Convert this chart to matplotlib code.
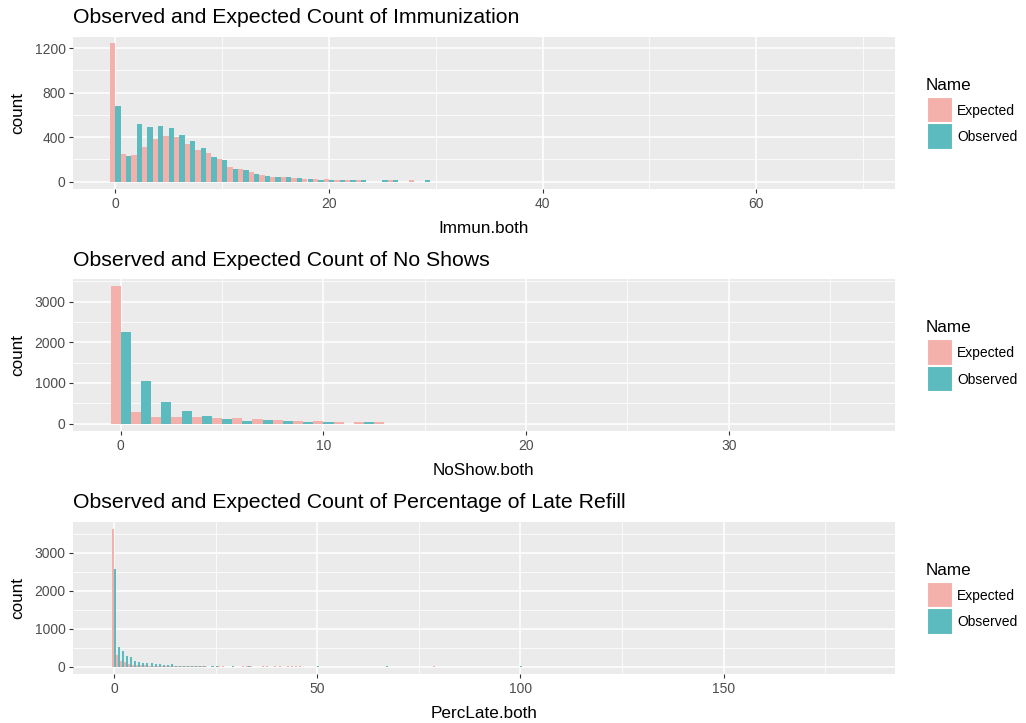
import numpy as np
import matplotlib
matplotlib.use("Agg")
import matplotlib.pyplot as plt
from matplotlib.patches import Rectangle

plt.rcParams['font.family'] = ['Liberation Sans', 'DejaVu Sans']

# ---- counts per integer bin (binwidth = 1) ----
immun_bins = list(range(30))
immun_expected = [1243, 247, 235, 309, 384, 413, 404, 342, 288, 253,
                  202, 135, 110, 85, 60, 40, 45, 30, 26, 25,
                  25, 18, 10, 15, 0, 0, 10, 0, 12, 0]
immun_observed = [681, 232, 520, 491, 503, 482, 416, 363, 300, 223,
                  193, 112, 100, 70, 50, 38, 45, 36, 26, 17,
                  16, 15, 15, 12, 0, 12, 12, 0, 0, 12]

noshow_bins = list(range(14))
noshow_expected = [3377, 279, 156, 156, 156, 150, 140, 123, 80, 57, 57, 33, 33, 33]
noshow_observed = [2246, 1041, 533, 303, 189, 123, 66, 98, 60, 33, 33, 0, 33, 0]

perclate_expected_bins = list(range(24)) + [26, 27, 32, 33, 34, 37, 38, 40, 41, 43, 44, 45, 46, 79]
perclate_expected = [3630, 316, 160, 115, 80, 55, 45, 38, 33, 28, 25, 22, 20, 18,
                     17, 15, 14, 13, 12, 12, 11, 10, 10, 9,
                     15, 14, 15, 14, 13, 13, 13, 13, 12, 12, 12, 12, 12, 15]
perclate_observed_bins = list(range(23)) + [24, 25, 29, 33, 50, 67, 100]
perclate_observed = [2580, 510, 410, 290, 255, 150, 125, 95, 88, 95, 60, 70, 35, 35,
                     70, 25, 22, 20, 18, 15, 15, 14, 13,
                     14, 14, 14, 13, 18, 18, 18]

series_names = ["Expected", "Observed"]
PINK = "#F4B1AC"
TEAL = "#5BBBBE"
PANEL_BG = "#EBEBEB"

W, H = 1026, 723
fig = plt.figure(figsize=(W / 100, H / 100), dpi=100)
fig.patch.set_facecolor("white")


def fx(px):
    return px / W


def fy(py):
    return 1 - py / H


LEFT, RIGHT = 72.5, 895.0

panels = [
    dict(title="Observed and Expected Count of Immunization", xlabel="Immun.both",
         eb=immun_bins, ev=immun_expected, ob=immun_bins, ov=immun_observed,
         xlim=(-4.0, 73.0), xt=[0, 20, 40, 60], xm=[10, 30, 50, 70],
         yt=[0, 400, 800, 1200], ym=[200, 600, 1000], top=36.5, bottom=188.5),
    dict(title="Observed and Expected Count of No Shows", xlabel="NoShow.both",
         eb=noshow_bins, ev=noshow_expected, ob=noshow_bins, ov=noshow_observed,
         xlim=(-2.38, 38.2), xt=[0, 10, 20, 30], xm=[5, 15, 25, 35],
         yt=[0, 1000, 2000, 3000], ym=[500, 1500, 2500, 3500], top=279.5, bottom=430.5),
    dict(title="Observed and Expected Count of Percentage of Late Refill", xlabel="PercLate.both",
         eb=perclate_expected_bins, ev=perclate_expected,
         ob=perclate_observed_bins, ov=perclate_observed,
         xlim=(-10.2, 192.2), xt=[0, 50, 100, 150], xm=[25, 75, 125, 175],
         yt=[0, 1000, 2000, 3000], ym=[500, 1500, 2500, 3500], top=522.0, bottom=673.5),
]

for p in panels:
    top, bottom = p["top"], p["bottom"]
    ax = fig.add_axes([fx(LEFT), fy(bottom), (RIGHT - LEFT) / W, (bottom - top) / H])
    ax.set_facecolor(PANEL_BG)
    for s in ax.spines.values():
        s.set_visible(False)

    eb = np.asarray(p["eb"], dtype=float)
    ob = np.asarray(p["ob"], dtype=float)
    ev = np.asarray(p["ev"], dtype=float)
    ov = np.asarray(p["ov"], dtype=float)
    # dodged histogram: each unit bin split into an Expected half and an Observed half
    ax.bar(eb - 0.5, ev, width=0.5, align="edge", color=PINK, linewidth=0, zorder=3)
    ax.bar(ob, ov, width=0.5, align="edge", color=TEAL, linewidth=0, zorder=3)

    ymax = max(ev.max(), ov.max())
    ax.set_ylim(-0.05 * ymax, 1.05 * ymax)
    ax.set_xlim(*p["xlim"])

    ax.set_xticks(p["xt"])
    ax.set_xticks(p["xm"], minor=True)
    ax.set_yticks(p["yt"])
    ax.set_yticks(p["ym"], minor=True)
    ax.grid(which="major", color="white", linewidth=1.1, zorder=0)
    ax.grid(which="minor", color="white", linewidth=0.55, zorder=0)
    ax.set_axisbelow(True)
    ax.tick_params(which="major", length=2.75, width=0.8, color="#333333",
                   labelsize=10, labelcolor="#4D4D4D", pad=2.2)
    ax.tick_params(axis="x", which="major", pad=3.6)
    ax.tick_params(which="minor", length=0)

    fig.text(fx(73), fy(top - 13.8), p["title"], fontsize=15.3, ha="left",
             va="baseline", color="black")
    fig.text(fx((LEFT + RIGHT) / 2), fy(bottom + 40), p["xlabel"], fontsize=12.3,
             ha="center", va="center", color="black")
    fig.text(fx(18), fy((top + bottom) / 2), "count", fontsize=12.3, rotation=90,
             ha="center", va="center", color="black")

    # legend block, centred on the panel
    c = (top + bottom) / 2
    fig.text(fx(926), fy(c - 27.5), "Name", fontsize=12.3, ha="left", va="center")
    for i, (name, col) in enumerate(zip(series_names, [PINK, TEAL])):
        y0 = c - 16 + i * 26.5
        fig.add_artist(Rectangle((fx(926.5), fy(y0 + 25.5)), 25 / W, 25.5 / H,
                                 transform=fig.transFigure, facecolor=col,
                                 edgecolor="white", linewidth=0.8))
        fig.text(fx(957), fy(y0 + 14), name, fontsize=10, ha="left", va="center")

fig.savefig("out.png", dpi=100)
